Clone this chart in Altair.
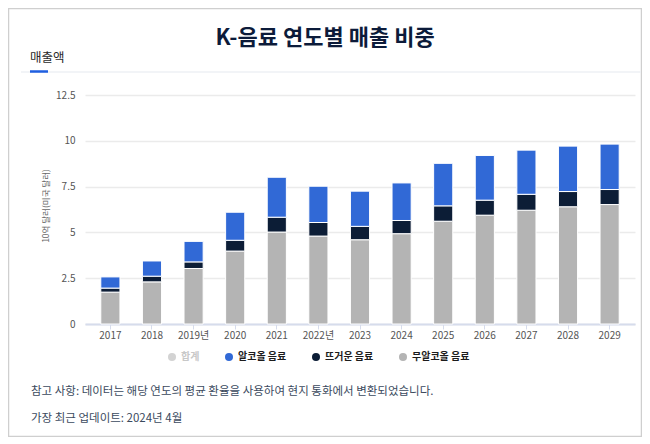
import altair as alt
import pandas as pd

years = ["2017", "2018", "2019년", "2020", "2021", "2022년", "2023",
         "2024", "2025", "2026", "2027", "2028", "2029"]
non_alcoholic = [1.74, 2.30, 3.03, 3.98, 5.02, 4.80, 4.60, 4.93, 5.61, 5.94, 6.21, 6.40, 6.52]
hot_drinks = [0.22, 0.31, 0.36, 0.59, 0.81, 0.74, 0.73, 0.72, 0.84, 0.82, 0.87, 0.83, 0.82]
alcoholic = [0.61, 0.83, 1.12, 1.53, 2.18, 1.98, 1.92, 2.05, 2.32, 2.44, 2.41, 2.48, 2.48]

series_names = ["합계", "알코올 음료", "뜨거운 음료", "무알코올 음료"]
series_colors = ["#d3d3d3", "#3169d6", "#0c1d36", "#b4b4b4"]
y_ticks = [0, 2.5, 5, 7.5, 10, 12.5]

title_text = "K-음료 연도별 매출 비중"
tab_text = "매출액"
y_title = "10억 달러(미국 달러)"
note1 = "참고 사항: 데이터는 해당 연도의 평균 환율을 사용하여 현지 통화에서 변환되었습니다."
note2 = "가장 최근 업데이트: 2024년 4월"

FONT = "Noto Sans CJK KR"

rows = []
for i, y in enumerate(years):
    rows.append({"year": y, "series": "무알코올 음료", "value": non_alcoholic[i], "ord": 0})
    rows.append({"year": y, "series": "뜨거운 음료", "value": hot_drinks[i], "ord": 1})
    rows.append({"year": y, "series": "알코올 음료", "value": alcoholic[i], "ord": 2})
df = pd.DataFrame(rows)

one = pd.DataFrame({"a": [0]})

bars = alt.Chart(df).mark_bar(stroke="white", strokeWidth=1).encode(
    x=alt.X("year:N", sort=years, title=None,
            scale=alt.Scale(paddingInner=0.54, paddingOuter=0.38),
            axis=alt.Axis(labelAngle=0, labelFont=FONT, labelFontSize=10,
                          labelColor="#555555", labelPadding=1,
                          domainColor="#d6dcec", domainWidth=2,
                          tickColor="#d6dcec", tickSize=5, grid=False)),
    y=alt.Y("value:Q", stack="zero", title=None,
            scale=alt.Scale(domain=[0, 12.5], nice=False),
            axis=alt.Axis(values=y_ticks, labelExpr="'' + datum.value",
                          domain=False, ticks=False,
                          labelFont=FONT, labelFontSize=10, labelColor="#555555",
                          labelPadding=10, gridColor="#ebebeb", gridWidth=1.5)),
    color=alt.Color("series:N",
                    scale=alt.Scale(domain=series_names, range=series_colors),
                    legend=alt.Legend(title=None, orient="none", direction="horizontal",
                                      legendX=82, legendY=257, symbolType="circle",
                                      symbolSize=64, symbolStrokeWidth=0,
                                      labelFont=FONT, labelFontSize=10,
                                      labelFontWeight="bold",
                                      labelColor={"expr": "datum.label == '합계' ? '#c8c8c8' : '#1c1c1c'"},
                                      columnPadding=24, labelOffset=4)),
    order=alt.Order("ord:Q", sort="ascending"),
)

border = alt.Chart(one).mark_rect(fill=None, stroke="#cfcfcf", strokeWidth=1.5).encode(
    x=alt.value(-76.5), x2=alt.value(556.5), y=alt.value(-86.5), y2=alt.value(341.5))

sep = alt.Chart(one).mark_rule(color="#eef0f4", strokeWidth=1.5).encode(
    x=alt.value(-64), x2=alt.value(556), y=alt.value(-23))
underline = alt.Chart(one).mark_rule(color="#1f5fe0", strokeWidth=2.5).encode(
    x=alt.value(-55), x2=alt.value(-37), y=alt.value(-23.5))

title = alt.Chart(one).mark_text(font=FONT, fontSize=22, fontWeight="bold",
                                 color="#0c1b3a", align="center", baseline="middle").encode(
    x=alt.value(240), y=alt.value(-57), text=alt.value(title_text))
tab = alt.Chart(one).mark_text(font=FONT, fontSize=12.5, color="#2a2a2a",
                               align="left", baseline="middle").encode(
    x=alt.value(-55), y=alt.value(-37), text=alt.value(tab_text))
ytitle = alt.Chart(one).mark_text(font=FONT, fontSize=8.5, color="#666666", angle=270,
                                  align="center", baseline="middle").encode(
    x=alt.value(-39), y=alt.value(111), text=alt.value(y_title))
n1 = alt.Chart(one).mark_text(font=FONT, fontSize=11.5, color="#3b4a5e",
                              align="left", baseline="middle").encode(
    x=alt.value(-54), y=alt.value(297), text=alt.value(note1))
n2 = alt.Chart(one).mark_text(font=FONT, fontSize=11.5, color="#3b4a5e",
                              align="left", baseline="middle").encode(
    x=alt.value(-54), y=alt.value(324), text=alt.value(note2))

chart = alt.layer(border, sep, underline, title, tab, ytitle, bars, n1, n2).properties(
    width=550, height=229,
    autosize=alt.AutoSizeParams(type="none"),
    padding={"left": 77, "top": 87, "right": 7, "bottom": 113},
    background="white",
).configure_view(stroke=None)

chart.save("out.html", embed_options={"renderer": "svg", "actions": False})
